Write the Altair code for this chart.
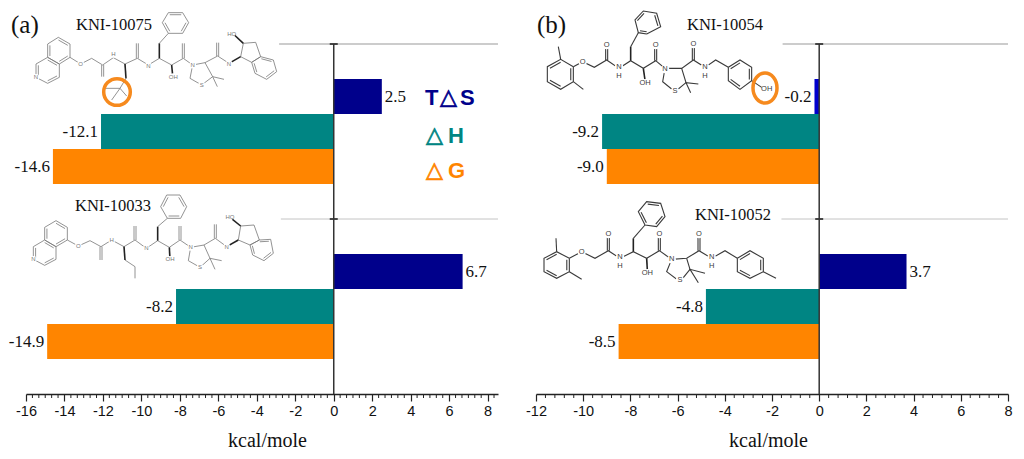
import altair as alt
import pandas as pd

# ---- bar values (kcal/mole) ----
terms = ["TdS", "dH", "dG"]
colors = {"TdS": "#00008b", "dH": "#008583", "dG": "#ff8500"}
values_a = [2.5, -12.1, -14.6, 6.7, -8.2, -14.9]
values_b = [-0.2, -9.2, -9.0, 3.7, -4.8, -8.5]
rows_top = [1, 2, 3, 6, 7, 8]
labels_a = ["2.5", "-12.1", "-14.6", "6.7", "-8.2", "-14.9"]
labels_b = ["-0.2", "-9.2", "-9.0", "3.7", "-4.8", "-8.5"]
ticks_a = list(range(-16, 10, 2))
ticks_b = list(range(-12, 10, 2))

# ---- structure skeletons, each in its own sketch units (3 units = 1 px) ----
m75 = dict(origin=(30, 10), color="#777777", width=0.8, atom_size=6,
    rings=[[(85,82),(120,102),(120,142),(88,162),(53,142),(53,102)],
           [(53,142),(88,162),(88,202),(53,220),(18,202),(18,162)],
           [(415,8),(458,8),(476,38),(458,70),(415,70),(397,38)],
           [(692,140),(730,150),(740,185),(710,208),(675,190),(665,157)]],
    chains=[[(120,142),(152,162),(185,145),(218,165),(250,143),(285,162),(322,145),(355,165),(388,145),(425,165),(460,145),(488,165),(525,158),(563,138),(597,160)],
            [(488,165),(480,205),(515,225),(548,200),(525,158)],
            [(582,208),(548,200),(562,230)],
            [(632,140),(640,100),(677,97),(692,140),(665,157),(632,140)],
            [(388,100),(415,70)],
            [(288,205),(270,235)],
            [(228,235),(270,235),(290,258)],
            [(270,235),(245,270)]],
    doubles=[[(218,165),(218,200)],[(322,145),(322,100)],[(460,145),(460,100)],[(563,138),(563,98)]],
    bold=[[(285,162),(288,205)],[(388,145),(388,100)],[(425,165),(428,197)],[(597,160),(632,140)],[(640,100),(610,72)]],
    atoms=[("O",152,162),("N",18,202),("H",250,133),("N",355,168),("N",488,165),("S",515,225),("OH",430,200),("N",597,162),("HO",605,72)])
m33 = dict(origin=(30, 190), color="#777777", width=0.8, atom_size=6,
    rings=[[(78,92),(112,112),(112,150),(78,170),(44,150),(44,112)],
           [(44,150),(78,170),(78,208),(44,226),(10,208),(10,170)],
           [(412,85),(452,85),(470,50),(450,15),(410,15),(392,50)],
           [(688,150),(722,148),(730,190),(702,212),(668,195),(660,165)]],
    chains=[[(112,150),(145,168),(180,152),(213,170),(245,150),(282,170),(315,150),(349,175),(383,152),(418,172),(450,150),(482,172),(522,165),(556,145),(590,170)],
            [(482,172),(475,212),(510,232),(540,205),(522,165)],
            [(575,212),(540,205),(555,238)],
            [(625,150),(632,108),(672,105),(688,150),(660,165),(625,150)],
            [(383,110),(412,85)],
            [(285,210),(315,230),(315,265)]],
    doubles=[[(213,170),(213,210)],[(315,150),(315,108)],[(450,150),(450,108)],[(556,145),(556,103)]],
    bold=[[(282,170),(285,210)],[(383,152),(383,110)],[(418,172),(420,208)],[(590,170),(625,150)],[(632,108),(600,82)]],
    atoms=[("O",145,168),("N",10,208),("H",245,150),("N",349,175),("N",482,172),("S",510,232),("OH",420,208),("N",590,170),("HO",600,80)])
m54 = dict(origin=(540, 10), color="#3a3a3a", width=1.1, atom_size=7.5,
    rings=[[(100,170),(100,215),(62,238),(22,215),(22,170),(62,148)],
           [(565,172),(600,150),(635,172),(635,212),(600,238),(565,212)],
           [(320,72),(295,68),(285,30),(310,3),(350,10),(362,50)]],
    chains=[[(100,170),(128,155),(163,172),(200,150),(237,175),(272,152),(310,175),(347,152),(375,175),(425,175),(460,150),(495,172),(527,150),(565,172)],
            [(375,175),(368,215),(405,245),(438,218),(425,175)],
            [(475,222),(438,218),(452,248)],
            [(62,148),(55,110)],[(100,215),(130,238)],[(635,212),(665,232)],
            [(272,110),(295,68)]],
    doubles=[[(200,150),(200,108)],[(347,152),(347,108)],[(460,150),(460,105)]],
    bold=[[(272,152),(272,110)],[(310,175),(315,210)]],
    atoms=[("O",128,155),("N",237,170),("H",237,197),("N",375,177),("S",405,243),("OH",315,220),("N",495,170),("H",495,197),("OH",680,237),("O",200,105),("O",347,105),("O",460,102)])
m52 = dict(origin=(530, 190), color="#3a3a3a", width=1.1, atom_size=7.5,
    rings=[[(118,205),(118,245),(80,265),(42,245),(42,205),(80,185)],
           [(622,205),(660,182),(700,205),(700,245),(660,265),(622,245)],
           [(345,105),(325,65),(350,35),(392,40),(405,80),(380,110)]],
    chains=[[(118,205),(155,185),(195,205),(235,182),(270,205),(310,185),(350,205),(388,182),(425,208),(470,205),(507,182),(545,205),(585,182),(622,205)],
            [(425,208),(410,245),(450,275),(480,238),(470,205)],
            [(525,250),(480,238),(505,278)],
            [(80,185),(78,145)],[(118,245),(155,268)],[(700,245),(738,265)],
            [(310,145),(345,105)]],
    doubles=[[(235,182),(235,135)],[(388,182),(388,135)],[(507,182),(507,135)]],
    bold=[[(310,185),(310,145)],[(350,205),(352,240)]],
    atoms=[("O",155,185),("N",270,202),("H",270,229),("N",425,208),("S",450,270),("OH",352,250),("N",545,202),("H",545,229),("O",235,132),("O",388,132),("O",507,132)])

PLOT_W, PLOT_H = 472, 350
TOP_PX = 44


def panel(values, labels, tick_vals, minors, x_domain, x_left_px, molecules, name_labels,
          panel_text, circle_rows, legend_rows, tri_rows, line_rows, title_x):
    px_per_unit = PLOT_W / (x_domain[1] - x_domain[0])
    to_x = lambda px: x_domain[0] + (px - x_left_px) / px_per_unit
    to_y = lambda py: (py - TOP_PX) / 35.0

    x_enc = alt.X("x:Q", scale=alt.Scale(domain=x_domain, nice=False, zero=False),
                  axis=alt.Axis(values=tick_vals, title="kcal/mole", grid=False,
                                labelExpr="toString(datum.value)",
                                labelFont="Liberation Sans", labelFontSize=14.5, labelColor="#111111",
                                labelPadding=3, labelFlush=False, labelOverlap=False,
                                titleFont="Liberation Serif", titleFontSize=20, titleFontWeight="normal",
                                titleColor="#111111", titleX=title_x, titleY=36,
                                tickSize=7, tickColor="#222222", tickWidth=1.2,
                                domainColor="#222222", domainWidth=1.5))
    y_scale = alt.Scale(domain=[0, 10], reverse=True, nice=False, zero=False)
    y_enc = alt.Y("y:Q", scale=y_scale, axis=None)

    bars = pd.DataFrame({"x": values, "x0": [0] * 6, "y": rows_top,
                         "y2": [r + 1 for r in rows_top],
                         "term": terms * 2, "label": labels})
    bars["color"] = [("#0000cd" if v == -0.2 else colors[t]) for v, t in zip(bars.x, bars.term)]
    bar_layer = alt.Chart(bars).mark_rect().encode(
        x=x_enc, x2="x0:Q", y=y_enc, y2="y2:Q", color=alt.Color("color:N", scale=None))

    lab = bars.assign(y=bars.y + 0.5)
    lab_pos = alt.Chart(lab[lab.x > 0]).mark_text(
        align="left", baseline="middle", dx=3, font="Liberation Serif", fontSize=17, color="#111111"
    ).encode(x=x_enc, y=y_enc, text="label:N")
    lab_neg = alt.Chart(lab[lab.x < 0]).mark_text(
        align="right", baseline="middle", dx=-3, font="Liberation Serif", fontSize=17, color="#111111"
    ).encode(x=x_enc, y=y_enc, text="label:N")

    # zero line, group separators, small marks on the zero line
    zero = alt.Chart(pd.DataFrame({"x": [0], "y": [0], "y2": [10]})).mark_rule(
        color="#333333", strokeWidth=1.5).encode(x=x_enc, y=y_enc, y2="y2:Q")
    sep = alt.Chart(pd.DataFrame(line_rows)).mark_rule().encode(
        x=x_enc, x2="x2:Q", y=y_enc, color=alt.Color("c:N", scale=None))
    minor = alt.Chart(pd.DataFrame({"x": minors})).mark_rule(color="#222222", strokeWidth=1).encode(
        x=x_enc, y=alt.value(PLOT_H), y2=alt.value(PLOT_H + 4))
    half = 4 / px_per_unit
    nubs = alt.Chart(pd.DataFrame({"x": [-half, -half], "x2": [half, half], "y": [0, 5]})).mark_rule(
        color="#222222", strokeWidth=1.6).encode(x=x_enc, x2="x2:Q", y=y_enc)

    # structures
    layers = []
    for m in molecules:
        ox, oy = m["origin"]
        P = lambda p: (to_x(ox + p[0] / 3), to_y(oy + p[1] / 3))
        rows, bold_rows = [], []
        gid = 0
        for ring in m["rings"]:
            for i, p in enumerate(ring + ring[:1]):
                rows.append((gid, i, *P(p)))
            gid += 1
            cx = sum(p[0] for p in ring) / 6
            cy = sum(p[1] for p in ring) / 6
            for k in (0, 2, 4):
                a, b = ring[k], ring[(k + 1) % 6]
                for i, q in enumerate((a, b)):
                    inner = (q[0] + (cx - q[0]) * 0.2, q[1] + (cy - q[1]) * 0.2)
                    rows.append((gid, i, *P(inner)))
                gid += 1
        for chain in m["chains"]:
            for i, p in enumerate(chain):
                rows.append((gid, i, *P(p)))
            gid += 1
        for d in m["doubles"]:
            for off in (-3, 3):
                for i, p in enumerate(d):
                    rows.append((gid, i, *P((p[0] + off, p[1]))))
                gid += 1
        for chain in m["bold"]:
            for i, p in enumerate(chain):
                bold_rows.append((gid, i, *P(p)))
            gid += 1
        for rs, sw, col in ((rows, m["width"], m["color"]), (bold_rows, 1.6, "#222222")):
            df = pd.DataFrame(rs, columns=["g", "i", "x", "y"])
            layers.append(alt.Chart(df).mark_line(color=col, strokeWidth=sw).encode(
                x=x_enc, y=y_enc, detail="g:N", order="i:Q"))
        at = pd.DataFrame([(t, *P((a, b))) for t, a, b in m["atoms"]], columns=["t", "x", "y"])
        # white disc so that bonds stop short of the atom letters
        layers.append(alt.Chart(at).mark_point(shape="circle", filled=True, color="white", opacity=1,
                                               size=m["atom_size"] ** 2 * 1.3).encode(x=x_enc, y=y_enc))
        layers.append(alt.Chart(at).mark_text(font="Liberation Sans", fontSize=m["atom_size"], color=m["color"]).encode(
            x=x_enc, y=y_enc, text="t:N"))

    # compound names and panel tag
    nm = pd.DataFrame([(t, to_x(a), to_y(b)) for t, a, b in name_labels], columns=["t", "x", "y"])
    names = alt.Chart(nm).mark_text(font="Liberation Serif", fontSize=16.5, color="#111111", align="left",
                                    baseline="middle").encode(x=x_enc, y=y_enc, text="t:N")
    tg = pd.DataFrame([(panel_text[0], to_x(panel_text[1]), to_y(panel_text[2]))], columns=["t", "x", "y"])
    tag = alt.Chart(tg).mark_text(font="Liberation Serif", fontSize=25, color="#111111", align="left",
                                  baseline="middle").encode(x=x_enc, y=y_enc, text="t:N")

    # orange highlight around the modified group
    cr = pd.DataFrame([(to_x(a), to_y(b)) for a, b, *_ in circle_rows], columns=["x", "y"])
    circle = alt.Chart(cr).mark_point(
        shape=circle_rows[0][2], size=circle_rows[0][3], filled=False, color="#f68a1e", strokeWidth=3.5, opacity=1
    ).encode(x=x_enc, y=y_enc)

    parts = [bar_layer, zero, sep, minor, nubs, lab_pos, lab_neg, names, tag] + layers + [circle]
    if legend_rows:
        lg = pd.DataFrame([(t, to_x(a), to_y(b), c) for t, a, b, c in legend_rows], columns=["t", "x", "y", "c"])
        parts.append(alt.Chart(lg).mark_text(font="Liberation Sans", fontWeight="bold", fontSize=22,
                                             align="left", baseline="middle").encode(
            x=x_enc, y=y_enc, text="t:N", color=alt.Color("c:N", scale=None)))
        tr = pd.DataFrame([(t, to_x(a), to_y(b), c) for t, a, b, c in tri_rows], columns=["t", "x", "y", "c"])
        parts.append(alt.Chart(tr).mark_text(font="DejaVu Sans", fontWeight="normal", fontSize=22,
                                             align="left", baseline="middle", strokeWidth=0.7).encode(
            x=x_enc, y=y_enc, text="t:N", color=alt.Color("c:N", scale=None),
            stroke=alt.Stroke("c:N", scale=None)))
    return alt.layer(*parts).properties(width=PLOT_W, height=PLOT_H)


minors_a = [-16 + k / 3 for k in range(74) if k % 6 != 0]
minors_b = [-12 + k * 0.4 for k in range(51) if k % 5 != 0]
TRI = "\u25b3"

left = panel(values_a, labels_a, ticks_a, minors_a, [-16, 8.54], 26, [m75, m33],
             [("KNI-10075", 76, 25), ("KNI-10033", 75, 206)], ("(a)", 11, 25),
             [(117, 92, "circle", 707)],
             [("T", 425, 98, colors["TdS"]), ("S", 460, 98, colors["TdS"]),
              ("H", 448, 136, colors["dH"]), ("G", 448, 171, colors["dG"])],
             [(TRI, 440, 97, colors["TdS"]), (TRI, 426, 135, colors["dH"]), (TRI, 426, 170, colors["dG"])],
             [dict(x=-2.84, x2=8.54, y=0, c="#999999"), dict(x=-2.75, x2=8.54, y=5, c="#c4c4c4")],
             241)
right = panel(values_b, labels_b, ticks_b, minors_b, [-12, 8], 536, [m54, m52],
              [("KNI-10054", 687, 25), ("KNI-10052", 695, 215)], ("(b)", 537, 25),
              [(765, 88, "M -0.8 0 A 0.8 1 0 1 1 0.8 0 A 0.8 1 0 1 1 -0.8 0 Z", 900)],
              [], [],
              [dict(x=-1.55, x2=8, y=0, c="#999999"), dict(x=-1.6, x2=8, y=5, c="#c4c4c4")],
              232)

chart = alt.hconcat(left, right, spacing=38, bounds="flush").properties(
    padding={"left": 0, "top": 0, "right": 0, "bottom": 0}
).configure_view(stroke=None)

chart.save("out.html", embed_options={"renderer": "svg", "actions": False})
